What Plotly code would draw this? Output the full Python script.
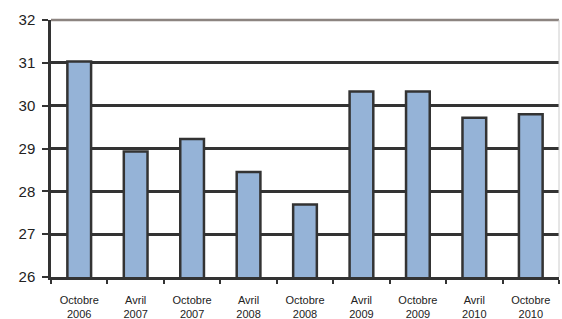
import plotly.graph_objects as go

categories = ["Octobre<br>2006", "Avril<br>2007", "Octobre<br>2007", "Avril<br>2008",
              "Octobre<br>2008", "Avril<br>2009", "Octobre<br>2009", "Avril<br>2010",
              "Octobre<br>2010"]
values = [31.03, 28.93, 29.22, 28.45, 27.69, 30.33, 30.33, 29.72, 29.80]
y_ticks = [26, 27, 28, 29, 30, 31, 32]
title_text = "(en années)"

fig = go.Figure(go.Bar(
    x=categories, y=values,
    marker=dict(color="#95b3d7", line=dict(color="#333333", width=2.5)),
    width=0.42,
))

fig.update_layout(
    width=562, height=319,
    margin=dict(l=51, r=3, t=20, b=42),
    paper_bgcolor="white", plot_bgcolor="white",
    showlegend=False,
    font=dict(family="Liberation Sans, Arial, sans-serif", color="#222222"),
    annotations=[dict(text=title_text, xref="paper", yref="paper", x=0.51, y=1.0,
                      yshift=19, showarrow=False, font=dict(size=13, color="#222222"),
                      xanchor="center", yanchor="bottom")],
    shapes=[
        dict(type="line", xref="paper", yref="paper", x0=0, x1=1, y0=1, y1=1,
             line=dict(color="#8c8480", width=2.5), layer="above"),
        dict(type="line", xref="paper", yref="paper", x0=1, x1=1, y0=0, y1=1,
             line=dict(color="#cccccc", width=1), layer="above"),
    ],
)

fig.update_xaxes(
    type="category", showline=True, linecolor="#333333", linewidth=2.5,
    ticks="outside", tickson="boundaries", ticklen=4, tickwidth=2, tickcolor="#333333",
    tickfont=dict(size=11, color="#222222"), showgrid=False, automargin=False,
    ticklabelstandoff=11,
)
fig.update_yaxes(
    range=[26, 32], tickvals=y_ticks, showline=True, linecolor="#333333", linewidth=2.5,
    ticks="outside", ticklen=6, tickwidth=2, tickcolor="#333333",
    gridcolor="#333333", gridwidth=2.5, zeroline=False, automargin=False,
    tickfont=dict(size=15, color="#222222"), ticklabelstandoff=4,
)

fig.write_html("out.html", config={"displayModeBar": False},
               post_script="document.body.style.margin='0';")
